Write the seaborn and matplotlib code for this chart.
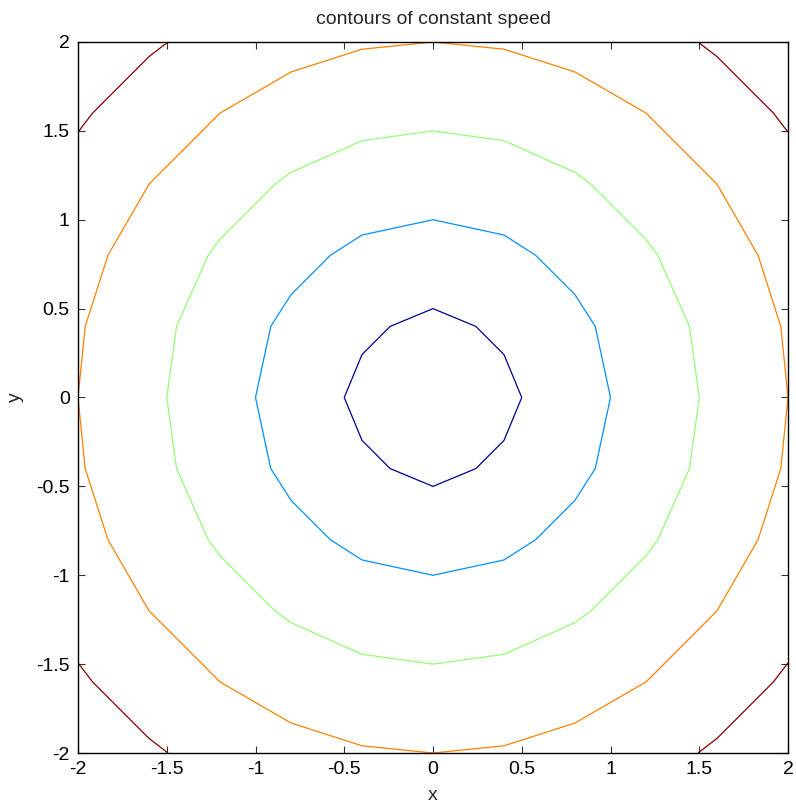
import numpy as np
import matplotlib
matplotlib.use("Agg")
import matplotlib.pyplot as plt
import seaborn as sns

# Sample grid (coarse, 0.4 spacing) on which the speed field is evaluated
grid_x = [-2.0, -1.6, -1.2, -0.8, -0.4, 0.0, 0.4, 0.8, 1.2, 1.6, 2.0]
grid_y = [-2.0, -1.6, -1.2, -0.8, -0.4, 0.0, 0.4, 0.8, 1.2, 1.6, 2.0]
# Contour levels of constant speed and their colours (64-step jet palette)
levels = [0.5, 1.0, 1.5, 2.0, 2.5]
level_colors = ["#000090", "#0090ff", "#90ff70", "#ff8000", "#800000"]
tick_values = [-2, -1.5, -1, -0.5, 0, 0.5, 1, 1.5, 2]
tick_labels = ["-2", "-1.5", "-1", "-0.5", "0", "0.5", "1", "1.5", "2"]

sns.set_theme(style="white")
plt.rcParams["font.family"] = ["Liberation Sans", "DejaVu Sans"]

X, Y = np.meshgrid(np.array(grid_x), np.array(grid_y))
speed = np.hypot(X, Y)

fig = plt.figure(figsize=(7.96, 8.05), dpi=100)
ax = fig.add_axes([78 / 796, 1 - 753 / 805, (788 - 78) / 796, (753 - 42) / 805])

ax.contour(X, Y, speed, levels=levels, colors=level_colors, linewidths=0.9)

ax.set_xlim(-2, 2)
ax.set_ylim(-2, 2)
ax.set_xticks(tick_values)
ax.set_xticklabels(tick_labels)
ax.set_yticks(tick_values)
ax.set_yticklabels(tick_labels)
ax.tick_params(direction="in", length=5, width=0.8, color="#333333", labelsize=14,
               labelcolor="black", top=True, right=True, bottom=True, left=True, pad=6)
for side in ax.spines.values():
    side.set_visible(True)
    side.set_color("black")
    side.set_linewidth(1.0)

ax.set_title("contours of constant speed", fontsize=14, pad=13)
ax.set_xlabel("x", fontsize=14, labelpad=6)
ax.set_ylabel("y", fontsize=14, labelpad=9)

fig.savefig("out.png", dpi=100, facecolor="white")
